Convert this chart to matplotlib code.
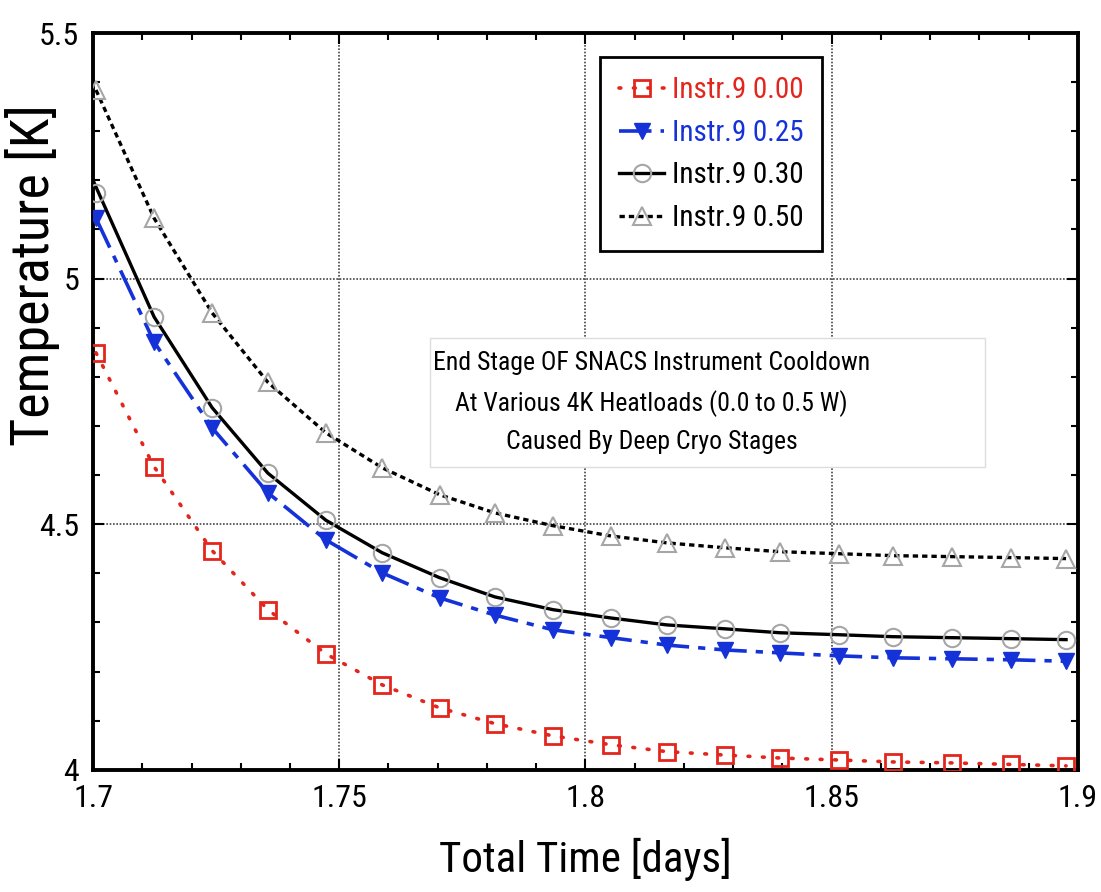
import matplotlib
matplotlib.use('Agg')
import matplotlib.pyplot as plt
from matplotlib import font_manager
from matplotlib.patches import Rectangle
from matplotlib.ticker import MultipleLocator

# Marker times (days) shared by all runs
time_days = [1.7006, 1.7124, 1.7242, 1.7355, 1.7473, 1.7587, 1.7704, 1.7816, 1.7934,
             1.8052, 1.8165, 1.8283, 1.8395, 1.8514, 1.8624, 1.8744, 1.8864, 1.8976]

temp_000 = [4.849, 4.617, 4.446, 4.326, 4.236, 4.173, 4.126, 4.094, 4.069,
            4.051, 4.037, 4.030, 4.024, 4.020, 4.016, 4.014, 4.011, 4.008]
temp_025 = [5.123, 4.871, 4.696, 4.564, 4.468, 4.401, 4.350, 4.315, 4.285,
            4.269, 4.254, 4.244, 4.238, 4.232, 4.228, 4.226, 4.224, 4.221]
temp_030 = [5.174, 4.922, 4.737, 4.604, 4.508, 4.442, 4.391, 4.352, 4.326,
            4.309, 4.295, 4.287, 4.279, 4.275, 4.271, 4.269, 4.267, 4.265]
temp_050 = [5.384, 5.123, 4.930, 4.789, 4.686, 4.615, 4.560, 4.523, 4.497,
            4.476, 4.462, 4.452, 4.444, 4.440, 4.436, 4.434, 4.432, 4.430]

# the solid 0.30 curve starts a bit above its first marker
line_time_030 = [1.7000] + time_days[1:]
line_temp_030 = [5.200] + temp_030[1:]

labels = ['Instr.9 0.00', 'Instr.9 0.25', 'Instr.9 0.30', 'Instr.9 0.50']
note = ('End Stage OF SNACS Instrument Cooldown\n'
        'At Various 4K Heatloads (0.0 to 0.5 W)\n'
        'Caused By Deep Cryo Stages')

# pick a narrow sans face if the system has one, the original text is condensed
names = {f.name for f in font_manager.fontManager.ttflist}
font = 'Liberation Sans'
k = 0.85
for cand in ['Liberation Sans Narrow', 'Arial Narrow', 'Roboto Condensed', 'Open Sans Condensed']:
    if cand in names:
        font = cand
        k = 1.0
        break
plt.rcParams['font.family'] = [font, 'DejaVu Sans']

red = '#e3261d'
blue = '#1532d8'
gray = '#a6a6a6'

fig = plt.figure(figsize=(11.01, 8.92), dpi=100)
ax = fig.add_axes([0.0845, 0.137, 0.8945, 0.826])

l0, = ax.plot(time_days, temp_000, color=red, lw=2.6, linestyle=(0, (0.5, 3.5)),
              dash_capstyle='round', marker='s', ms=11.5, mfc='none', mec=red, mew=2,
              label=labels[0], zorder=3)
l1, = ax.plot(time_days, temp_025, color=blue, lw=2.6, linestyle=(0, (9, 2.5, 2, 2.5)),
              marker='v', ms=11, mfc=blue, mec=blue, label=labels[1], zorder=3)
ax.plot(line_time_030, line_temp_030, color='black', lw=2.4, zorder=3)
ax.plot(time_days, temp_030, linestyle='none', marker='o', ms=12.5, mfc='none',
        mec=gray, mew=1.5, zorder=4)
l2, = ax.plot([], [], color='black', lw=2.4, marker='o', ms=12.5, mfc='none', mec=gray,
              mew=1.5, label=labels[2])
l3, = ax.plot(time_days, temp_050, color='black', lw=2.4, linestyle=(0, (1.6, 1.2)),
              marker='^', ms=13, mfc='none', mec=gray, mew=1.5, label=labels[3], zorder=3)

ax.set_xlim(1.7, 1.9)
ax.set_ylim(4, 5.5)
ax.set_xticks([1.7, 1.75, 1.8, 1.85, 1.9])
ax.set_xticklabels(['1.7', '1.75', '1.8', '1.85', '1.9'])
ax.set_yticks([4, 4.5, 5, 5.5])
ax.set_yticklabels(['4', '4.5', '5', '5.5'])
ax.xaxis.set_minor_locator(MultipleLocator(0.01))
ax.yaxis.set_minor_locator(MultipleLocator(0.1))
ax.tick_params(which='both', direction='in', top=True, right=True, width=1.5,
               labelsize=23 * k, pad=10)
ax.tick_params(which='major', length=8)
ax.tick_params(which='minor', length=5)
ax.grid(which='major', color='#444444', linestyle=(0, (1, 1)), lw=1.2)
for s in ax.spines.values():
    s.set_linewidth(2.8)

ax.set_xlabel('Total Time [days]', fontsize=31 * k, labelpad=18)
ax.set_ylabel('Temperature [K]', fontsize=39 * k)
ax.yaxis.set_label_coords(-0.034, 0.672)

# annotation box
ax.add_patch(Rectangle((0.342, 0.411), 0.564, 0.175, transform=ax.transAxes,
                       facecolor='white', edgecolor='#dddddd', lw=1, zorder=5))
ax.text(0.567, 0.498, note, transform=ax.transAxes, ha='center', va='center',
        fontsize=18.5 * k, linespacing=1.7, zorder=6)

leg = ax.legend(handles=[l0, l1, l2, l3], loc='upper left', bbox_to_anchor=(0.515, 0.967),
                borderaxespad=0, fontsize=21 * k, handlelength=1.55, handletextpad=0.25,
                labelspacing=0.5, borderpad=0.65, fancybox=False, framealpha=1,
                edgecolor='black')
leg.get_frame().set_linewidth(2)
leg.set_zorder(7)
for t, c in zip(leg.get_texts(), [red, blue, 'black', 'black']):
    t.set_color(c)

plt.savefig('out.png', dpi=100)
